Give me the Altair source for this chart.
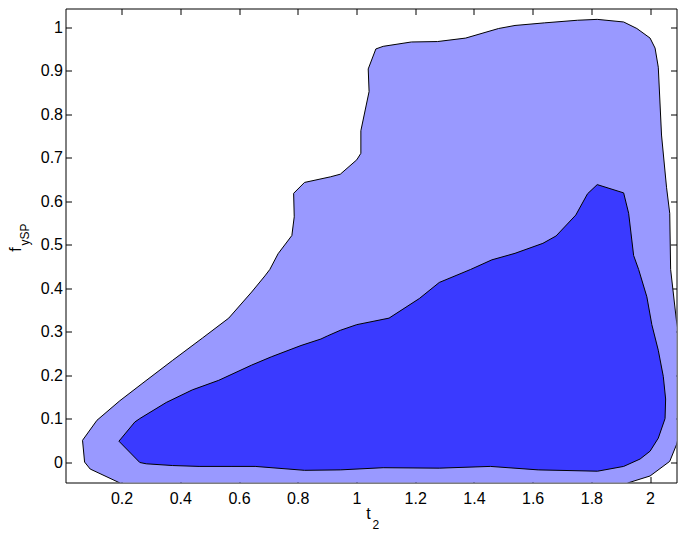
import altair as alt
import pandas as pd

# Outer (light) region boundary
outer_x = [0.067, 0.074, 0.093, 0.191, 0.26, 1.0, 1.85, 1.929, 2.0, 2.067, 2.09, 2.112, 2.115, 2.09,
           2.070, 2.067, 2.056, 2.039, 2.028, 2.017, 2.0, 1.955, 1.910, 1.820, 1.753, 1.641, 1.540,
           1.484, 1.372, 1.276, 1.187, 1.091, 1.066, 1.040, 1.043, 1.015, 1.015, 1.001, 0.945, 0.912,
           0.823, 0.786, 0.788, 0.780, 0.733, 0.705, 0.688, 0.643, 0.565, 0.475, 0.374, 0.273, 0.194,
           0.116, 0.067]
outer_y = [0.050, 0.0, -0.016, -0.047, -0.07, -0.08, -0.07, -0.047, -0.032, 0.0016, 0.040, 0.10, 0.22, 0.324,
           0.443, 0.572, 0.632, 0.752, 0.908, 0.952, 0.975, 0.997, 1.012, 1.018, 1.016, 1.010, 1.004,
           0.997, 0.975, 0.967, 0.966, 0.956, 0.950, 0.904, 0.852, 0.762, 0.710, 0.695, 0.662, 0.656,
           0.643, 0.618, 0.564, 0.521, 0.479, 0.443, 0.428, 0.391, 0.331, 0.285, 0.234, 0.182, 0.141,
           0.096, 0.050]

# Inner (dark) region boundary
inner_x = [0.191, 0.262, 0.284, 0.374, 0.464, 0.576, 0.655, 0.823, 0.945, 1.091, 1.282, 1.456, 1.619,
           1.821, 1.910, 1.966, 2.0, 2.028, 2.051, 2.053, 2.045, 2.028, 2.006, 1.989, 1.961, 1.944,
           1.927, 1.910, 1.820, 1.787, 1.747, 1.680, 1.635, 1.540, 1.461, 1.389, 1.282, 1.214, 1.111,
           1.001, 0.945, 0.901, 0.879, 0.811, 0.710, 0.643, 0.531, 0.441, 0.352, 0.262, 0.245, 0.191]
inner_y = [0.048, -0.001, -0.004, -0.008, -0.010, -0.010, -0.010, -0.019, -0.018, -0.013, -0.014, -0.010,
           -0.018, -0.021, -0.010, 0.007, 0.025, 0.055, 0.100, 0.145, 0.197, 0.257, 0.316, 0.380, 0.443,
           0.475, 0.572, 0.619, 0.638, 0.617, 0.568, 0.520, 0.503, 0.480, 0.465, 0.443, 0.413, 0.376,
           0.331, 0.316, 0.303, 0.290, 0.283, 0.268, 0.242, 0.223, 0.188, 0.166, 0.137, 0.100, 0.092, 0.048]

x_ticks = [0.2, 0.4, 0.6, 0.8, 1.0, 1.2, 1.4, 1.6, 1.8, 2.0]
y_ticks = [0.0, 0.1, 0.2, 0.3, 0.4, 0.5, 0.6, 0.7, 0.8, 0.9, 1.0]

X_DOMAIN = [0.009, 2.09]
Y_DOMAIN = [-0.047, 1.043]
W, H = 611, 474
FONT = "Liberation Sans"
TICK = 6

outer_df = pd.DataFrame({"x": outer_x, "y": outer_y, "i": range(len(outer_x))})
inner_df = pd.DataFrame({"x": inner_x, "y": inner_y, "i": range(len(inner_x))})
one = pd.DataFrame({"a": [0]})

xs = alt.Scale(domain=X_DOMAIN, nice=False, zero=False)
ys = alt.Scale(domain=Y_DOMAIN, nice=False, zero=False)

common = dict(ticks=True, tickSize=TICK, tickWidth=1, tickColor="black", domain=False,
              grid=False, offset=-TICK, title=None)

x_axis = alt.Axis(values=x_ticks, orient="bottom", labelPadding=8,
                  labelFontSize=16, labelFont=FONT, labelColor="black",
                  labelExpr="datum.value == 1 ? '1' : (datum.value == 2 ? '2' : format(datum.value, '.1f'))",
                  **common)
y_axis = alt.Axis(values=y_ticks, orient="left", labelPadding=3,
                  labelFontSize=16, labelFont=FONT, labelColor="black",
                  labelExpr="datum.value == 0 ? '0' : (datum.value == 1 ? '1' : format(datum.value, '.1f'))",
                  **common)
x_axis_top = alt.Axis(values=x_ticks, orient="top", labels=False, **common)
y_axis_right = alt.Axis(values=y_ticks, orient="right", labels=False, **common)

outer = alt.Chart(outer_df).mark_line(fill="#9999ff", stroke="black", strokeWidth=1, clip=True).encode(
    x=alt.X("x:Q", scale=xs, axis=x_axis),
    y=alt.Y("y:Q", scale=ys, axis=y_axis),
    order="i:Q",
)
inner = alt.Chart(inner_df).mark_line(fill="#3a3aff", stroke="black", strokeWidth=1, clip=True).encode(
    x=alt.X("x:Q", scale=xs, axis=x_axis_top),
    y=alt.Y("y:Q", scale=ys, axis=y_axis_right),
    order="i:Q",
)

# Axis titles with subscripts
t_main = alt.Chart(one).mark_text(text="t", font=FONT, fontSize=16, align="center",
                                  baseline="alphabetic", color="black").encode(
    x=alt.value(303), y=alt.value(510))
t_sub = alt.Chart(one).mark_text(text="2", font=FONT, fontSize=12, align="left",
                                 baseline="alphabetic", color="black").encode(
    x=alt.value(307), y=alt.value(520))
f_main = alt.Chart(one).mark_text(text="f", font=FONT, fontSize=16, align="center",
                                  baseline="alphabetic", angle=270, color="black").encode(
    x=alt.value(-45), y=alt.value(241))
f_sub = alt.Chart(one).mark_text(text="ySP", font=FONT, fontSize=12, align="center",
                                 baseline="alphabetic", angle=270, color="black").encode(
    x=alt.value(-37), y=alt.value(226))

chart = alt.layer(outer, inner, t_main, t_sub, f_main, f_sub).resolve_axis(
    x="independent", y="independent"
).properties(
    width=W, height=H,
    padding={"left": 57.5, "top": 0.5, "right": 1.5, "bottom": 47.5},
    autosize=alt.AutoSizeParams(type="none"),
    background="white",
).configure_view(stroke="black", strokeWidth=1)

chart.save("out.html", embed_options={"renderer": "svg", "actions": False})
